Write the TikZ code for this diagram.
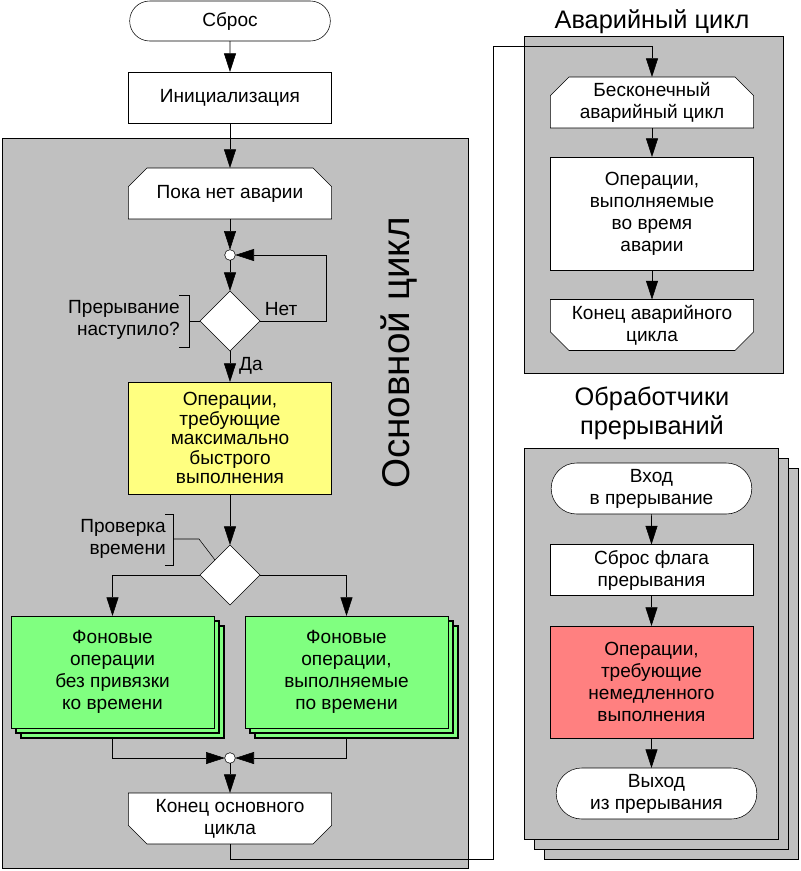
\documentclass[tikz,border=0pt]{standalone}
\usepackage{fontspec}
\setmainfont{Liberation Sans}
\usetikzlibrary{arrows.meta,shapes.geometric,shapes.misc,shadows}
\definecolor{panel}{HTML}{C0C0C0}
\definecolor{ylw}{HTML}{FFFF80}
\definecolor{grn}{HTML}{80FF80}
\definecolor{rd}{HTML}{FF8080}
\pgfdeclarelayer{back}
\pgfdeclarelayer{mid}
\pgfsetlayers{back,mid,main}
\newcommand{\bxfont}{\fontsize{14.3pt}{16.5pt}\selectfont}
\newcommand{\cutup}[1]{%
  \begin{pgfonlayer}{mid}
    \draw[fill=white] (#1.south west) -- ([yshift=-14pt]#1.north west) -- ([xshift=14pt]#1.north west)
      -- ([xshift=-14pt]#1.north east) -- ([yshift=-14pt]#1.north east) -- (#1.south east) -- cycle;
  \end{pgfonlayer}}
\newcommand{\cutdown}[1]{%
  \begin{pgfonlayer}{mid}
    \draw[fill=white] (#1.north west) -- ([yshift=14pt]#1.south west) -- ([xshift=14pt]#1.south west)
      -- ([xshift=-14pt]#1.south east) -- ([yshift=14pt]#1.south east) -- (#1.north east) -- cycle;
  \end{pgfonlayer}}

\begin{document}
\begin{tikzpicture}[x=0.75pt,y=-0.75pt,line width=1.5pt,
    every node/.style={font=\bxfont},
    blk/.style={draw,fill=white,minimum width=152.5pt,minimum height=38.25pt,align=center,inner sep=1pt,outer sep=0pt},
    term/.style={blk,rounded rectangle},
    cham/.style={blk,draw=none,fill=none},
    dia/.style={draw,fill=white,diamond,aspect=1,minimum width=45pt,minimum height=45pt,inner sep=0pt,outer sep=0pt},
    dot/.style={draw,fill=white,circle,minimum size=8pt,inner sep=0pt,outer sep=0pt},
    stack/.style={general shadow={shadow xshift=7.5pt,shadow yshift=-7.5pt,fill=grn,draw=black,line width=1.5pt},
                  general shadow={shadow xshift=3.75pt,shadow yshift=-3.75pt,fill=grn,draw=black,line width=1.5pt}},
    ttl/.style={font=\fontsize{19pt}{21.75pt}\selectfont,align=center,inner sep=0pt},
    note/.style={anchor=east,align=right,inner sep=0pt},
    arr/.style={-{Triangle[length=14pt,width=9pt]}}]
  \useasboundingbox (0,0) rectangle (800,871);

  % panels
  \begin{pgfonlayer}{back}
    \draw[fill=panel] (2,138) rectangle (468,868);
    \draw[fill=panel] (524,36) rectangle (783,373);
    \foreach \s in {20,10,0}
      \draw[fill=panel] (524+\s,448+\s) rectangle (778+\s,839+\s);
  \end{pgfonlayer}

  % main loop
  \node[term,minimum height=30pt] (reset) at (230,21) {Сброс};
  \node[blk] (init) at (230,97.5) {Инициализация};
  \node[cham] (nocrash) at (230,193.5) {Пока нет аварии};
  \cutup{nocrash}
  \node[dot] (c1) at (230,255) {};
  \node[dia] (d1) at (230,321) {};
  \node[blk,fill=ylw,minimum height=84pt,font=\fontsize{14.3pt}{14.6pt}\selectfont] (fast) at (230,438)
    {Операции,\\требующие\\максимально\\быстрого\\выполнения};
  \node[dia] (d2) at (230,575) {};
  \node[blk,stack,fill=grn,minimum height=84pt] (bgfree) at (112.5,672) {Фоновые\\операции\\без привязки\\ко времени};
  \node[blk,stack,fill=grn,minimum height=84pt] (bgtimed) at (346.5,672) {Фоновые\\операции,\\выполняемые\\по времени};
  \node[dot] (c2) at (230,758) {};
  \node[cham] (endmain) at (230,818.5) {Конец основного\\цикла};
  \cutdown{endmain}
  \node[rotate=90,font=\fontsize{29pt}{33pt}\selectfont] (mainlbl) at (399,353) {Основной цикл};

  \node[note] (irqq) at (180,320) {Прерывание\\наступило?};
  \node[note] (timeq) at (166,539) {Проверка\\времени};
  \node (no) at (281,309) {Нет};
  \node (yes) at (251,366) {Да};

  \coordinate (loop) at (326,321);
  \coordinate (turn) at (493,46);
  \draw[arr] (reset) -- (init);
  \draw[arr] (init) -- (nocrash);
  \draw[arr] (nocrash) -- (c1);
  \draw[arr] (c1) -- (d1);
  \draw[arr] (d1.east) -- (loop) |- (c1);
  \draw[arr] (d1) -- (fast);
  \draw[arr] (fast) -- (d2);
  \draw[arr] (d2.west) -| (bgfree);
  \draw[arr] (d2.east) -| (bgtimed);
  \draw[arr] ([yshift=-7.5pt]bgfree.south) |- (c2);
  \draw[arr] ([yshift=-7.5pt]bgtimed.south) |- (c2);
  \draw[arr] (c2) -- (endmain);
  \draw (179,295) -- (189,295) -- (189,347) -- (179,347);
  \draw (189,321) -- (d1.west);
  \draw (165,514) -- (173,514) -- (173,565) -- (165,565);
  \draw (173,539) -- (199,539) -- (d2.north west);

  % crash loop
  \node[ttl] (crashttl) at (652,22) {Аварийный цикл};
  \node[cham] (crashloop) at (652,102.5) {Бесконечный\\аварийный цикл};
  \cutup{crashloop}
  \node[blk,minimum height=84.75pt] (crashops) at (652,213.5) {Операции,\\выполняемые\\во время\\аварии};
  \node[cham] (crashend) at (652,325) {Конец аварийного\\цикла};
  \cutdown{crashend}
  \draw[arr] (endmain.south) -- (230,859) -| (turn) -| (crashloop.north);
  \draw[arr] (crashloop) -- (crashops);
  \draw[arr] (crashops) -- (crashend);

  % interrupt handlers
  \node[ttl] (irqttl) at (652,413) {Обработчики\\прерываний};
  \node[term] (irqin) at (651.5,488.5) {Вход\\в прерывание};
  \node[blk] (flag) at (651.5,570) {Сброс флага\\прерывания};
  \node[blk,fill=rd,minimum height=84pt] (urgent) at (651.5,682) {Операции,\\требующие\\немедленного\\выполнения};
  \node[term] (irqout) at (656.5,793.5) {Выход\\из прерывания};
  \draw[arr] (irqin) -- (flag);
  \draw[arr] (flag) -- (urgent);
  \draw[arr] (urgent.south) -- (urgent.south |- irqout.north);
\end{tikzpicture}
\end{document}
